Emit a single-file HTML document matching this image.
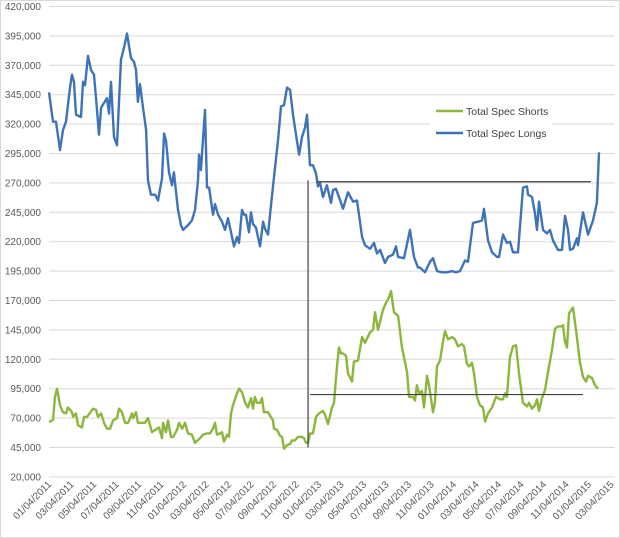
<!DOCTYPE html>
<html><head><meta charset="utf-8"><style>
html,body{margin:0;padding:0;background:#fff;}
svg{display:block;font-family:"Liberation Sans",sans-serif;}
</style></head><body>
<svg id="chart" width="620" height="538" viewBox="0 0 620 538" xmlns="http://www.w3.org/2000/svg">
<rect x="0.5" y="0.5" width="619" height="537" fill="#fff" stroke="#d9d9d9"/>
<g id="grid"></g>
<g id="yaxis"></g>
<g id="xaxis"></g>
<g id="series"></g>
<g id="annot"></g>
<g>
<rect x="430" y="100" width="122" height="44" fill="#fff"/>
<g>
<line x1="436" y1="111" x2="463" y2="111" stroke="#8cb63c" stroke-width="2.5"/>
<text x="466" y="115" font-size="10.5" fill="#404040">Total Spec Shorts</text></g>
<g>
<line x1="436" y1="133" x2="463" y2="133" stroke="#3f73b8" stroke-width="2.5"/>
<text x="466" y="137" font-size="10.5" fill="#404040">Total Spec Longs</text></g>
</g>
</svg>
<script>
const yTicks=[20000,45000,70000,95000,120000,145000,170000,195000,220000,245000,270000,295000,320000,345000,370000,395000,420000];
const xLabels=["01/04/2011","03/04/2011","05/04/2011","07/04/2011","09/04/2011","11/04/2011","01/04/2012","03/04/2012","05/04/2012","07/04/2012","09/04/2012","11/04/2012","01/04/2013","03/04/2013","05/04/2013","07/04/2013","09/04/2013","11/04/2013","01/04/2014","03/04/2014","05/04/2014","07/04/2014","09/04/2014","11/04/2014","01/04/2015","03/04/2015"];
// month offsets since 01/04/2011
const longsT=[-.27,.09,.36,.71,.98,1.24,1.6,1.78,1.96,2.13,2.58,2.76,2.93,3.2,3.47,3.73,4.0,4.18,4.36,4.89,5.07,5.24,5.51,5.78,6.13,6.4,6.67,7.02,7.29,7.47,7.64,7.82,8.09,8.36,8.53,8.8,9.16,9.42,9.78,9.96,10.13,10.4,10.67,10.84,11.2,11.47,11.64,12.09,12.44,12.71,12.98,13.07,13.24,13.6,13.78,13.96,14.31,14.49,14.76,15.11,15.38,15.64,15.91,16.18,16.44,16.62,16.89,17.07,17.24,17.51,17.69,17.87,18.13,18.49,18.76,18.93,19.2,19.47,19.82,20.09,20.36,20.62,20.89,21.16,21.42,21.69,21.96,22.22,22.49,22.67,22.93,23.2,23.47,23.64,23.82,24.09,24.44,24.53,24.8,24.98,25.24,25.51,25.87,26.31,26.76,27.11,27.56,27.82,28.27,28.62,28.89,29.16,29.6,29.87,30.31,30.58,30.76,31.29,31.82,32.18,32.53,32.71,33.16,33.6,33.87,34.22,34.67,35.11,35.56,35.91,36.27,36.71,36.98,37.42,37.87,38.22,38.4,38.76,39.11,39.56,39.73,40.09,40.44,40.71,40.98,41.42,41.87,42.22,42.31,42.67,42.93,43.11,43.29,43.64,44.0,44.27,44.53,44.98,45.33,45.6,45.87,46.04,46.31,46.67,46.76,47.2,47.64,48.09,48.44,48.62];
const longsV=[347,322,322,298,315,322,351,362,356,328,326,356,353,378,366,362,332,311,334,342,329,356,309,302,375,385,397,376,373,366,339,354,334,315,272,260,260,255,274,312,306,279,268,279,247,234,230,234,238,247,272,294,281,332,266,266,243,252,243,237,230,240,228,216,224,219,247,243,243,228,245,235,232,216,237,231,226,251,283,306,335,336,351,349,328,311,294,309,317,328,285,285,278,267,270,258,268,264,253,264,265,258,248,262,254,255,224,217,214,219,210,213,202,207,209,216,207,206,230,207,198,198,194,203,206,195,194,194,195,194,195,204,203,236,237,238,248,221,211,207,207,226,219,220,211,211,266,267,260,258,244,230,254,230,227,230,221,213,213,242,230,213,214,223,217,245,226,238,253,296];
const shortsT=[-.27,.09,.27,.44,.71,.98,1.24,1.42,1.78,1.87,2.13,2.31,2.67,2.84,3.11,3.64,3.91,4.09,4.36,4.62,4.89,5.16,5.42,5.78,5.96,6.22,6.49,6.76,7.11,7.2,7.47,7.64,8.0,8.27,8.53,8.89,9.33,9.51,9.78,9.87,10.13,10.31,10.58,10.76,11.11,11.29,11.56,11.82,12.09,12.44,12.71,13.16,13.42,13.78,14.04,14.31,14.49,14.67,14.93,15.11,15.29,15.56,15.73,15.91,16.09,16.44,16.62,16.89,17.16,17.42,17.69,17.87,18.04,18.22,18.49,18.67,18.84,19.2,19.64,19.73,20.0,20.27,20.44,20.62,20.89,21.16,21.33,21.6,21.87,22.22,22.4,22.58,22.76,22.93,23.2,23.47,23.73,24.09,24.27,24.53,24.89,25.07,25.33,25.51,25.69,25.87,26.13,26.31,26.67,26.84,27.2,27.56,27.82,28.27,28.53,28.71,28.98,29.42,29.69,29.96,30.13,30.4,30.76,31.11,31.56,31.73,32.09,32.27,32.44,32.62,32.89,33.07,33.33,33.51,33.87,34.04,34.22,34.49,34.76,34.93,35.2,35.56,35.82,36.09,36.44,36.62,36.89,37.07,37.33,37.51,37.78,38.04,38.31,38.49,38.76,39.11,39.47,39.82,40.09,40.27,40.44,40.71,40.98,41.24,41.51,41.87,42.22,42.4,42.67,42.93,43.11,43.29,43.56,43.82,44.09,44.44,44.71,44.98,45.33,45.42,45.6,45.78,45.96,46.31,46.58,46.93,47.2,47.47,47.64,48.0,48.27,48.53];
const shortsV=[66.7,68.5,88,95,81,75,74,79,75,71,74,64,62,71,71,78,77,71,74,66,61,61,68,70,78,75,66,66,74,70,75,66,66,66,70,58,61,62,53,66,58,68,54,54,60,66,61,66,57,56,49,53,56,57,57,61,66,56,57,58,50,56,54,74,81,91,95,92,83,79,87,78,88,83,83,87,75,75,68,61,60,55,54,44,47,48,51,51,54,54,53,49,49,57,57,71,74,76,73,65,79,83,114,130,125,125,123,108,101,118,119,139,134,143,145,160,145,162,168,173,178,160,157,130,109,88,88,85,98,91,93,79,106,98,75,83,114,119,135,144,137,139,137,131,133,131,116,114,117,108,88,81,79,67,74,79,88,86,86,91,88,122,131,132,108,83,80,83,78,81,86,76,87,94,109,128,146,148,148,149,135,130,159,164,145,117,105,101,106,104,98,95];
// annotation levels
const annoLongLevel=271, annoShortLevel=90, annoStartT=22.76, annoLongEndT=47.9, annoShortEndT=47.2;

const NS="http://www.w3.org/2000/svg";
const X0=52, MSTEP=11.25, Y0=6.5, PX_PER=29.4/25000;
const xS=m=>X0+m*MSTEP;
const yS=v=>Y0+(420000-v)*PX_PER;
const yK=k=>yS(k*1000);
function mk(tag,attrs,parent){const e=document.createElementNS(NS,tag);for(const k in attrs)e.setAttribute(k,attrs[k]);parent.appendChild(e);return e;}
const grid=document.getElementById('grid'),ya=document.getElementById('yaxis'),xa=document.getElementById('xaxis'),ser=document.getElementById('series'),an=document.getElementById('annot');
yTicks.forEach(v=>{
  const g=mk('line',{x1:49,x2:615,y1:yS(v),y2:yS(v),stroke:'#d9d9d9','stroke-width':1},grid);
  
  
  const t=mk('text',{x:41,y:yS(v)+3.5,'text-anchor':'end','font-size':'10',fill:'#595959'},ya);
  t.textContent=v.toLocaleString('en-US');
  
  
});
xLabels.forEach((l,i)=>{
  const x=xS(i*2), y=485;
  const t=mk('text',{x:x,y:y,'text-anchor':'end','font-size':'10',fill:'#595959',transform:`rotate(-45 ${x} ${y})`},xa);
  t.textContent=l;
  
  
});
function line(T,V,color,name){
  const n=Math.min(T.length,V.length);
  let d='';
  for(let i=0;i<n;i++)d+=(i?'L':'M')+xS(T[i]).toFixed(1)+','+yK(V[i]).toFixed(1);
  const p=mk('path',{d:d,fill:'none',stroke:color,'stroke-width':2.4,'stroke-linejoin':'round'},ser);
  
  
}
line(shortsT,shortsV,'#8cb63c','total-spec-shorts-line');
line(longsT,longsV,'#3f73b8','total-spec-longs-line');
const a1=mk('line',{x1:xS(annoStartT),x2:xS(annoStartT),y1:yK(45),y2:yK(annoLongLevel+1),stroke:'#404040','stroke-width':1.2},an);


const a2=mk('line',{x1:xS(annoStartT+0.8),x2:xS(annoLongEndT),y1:yK(annoLongLevel),y2:yK(annoLongLevel),stroke:'#404040','stroke-width':1.2},an);


const a3=mk('line',{x1:xS(annoStartT+0.2),x2:xS(annoShortEndT),y1:yK(annoShortLevel),y2:yK(annoShortLevel),stroke:'#404040','stroke-width':1.2},an);


</script>
</body></html>
